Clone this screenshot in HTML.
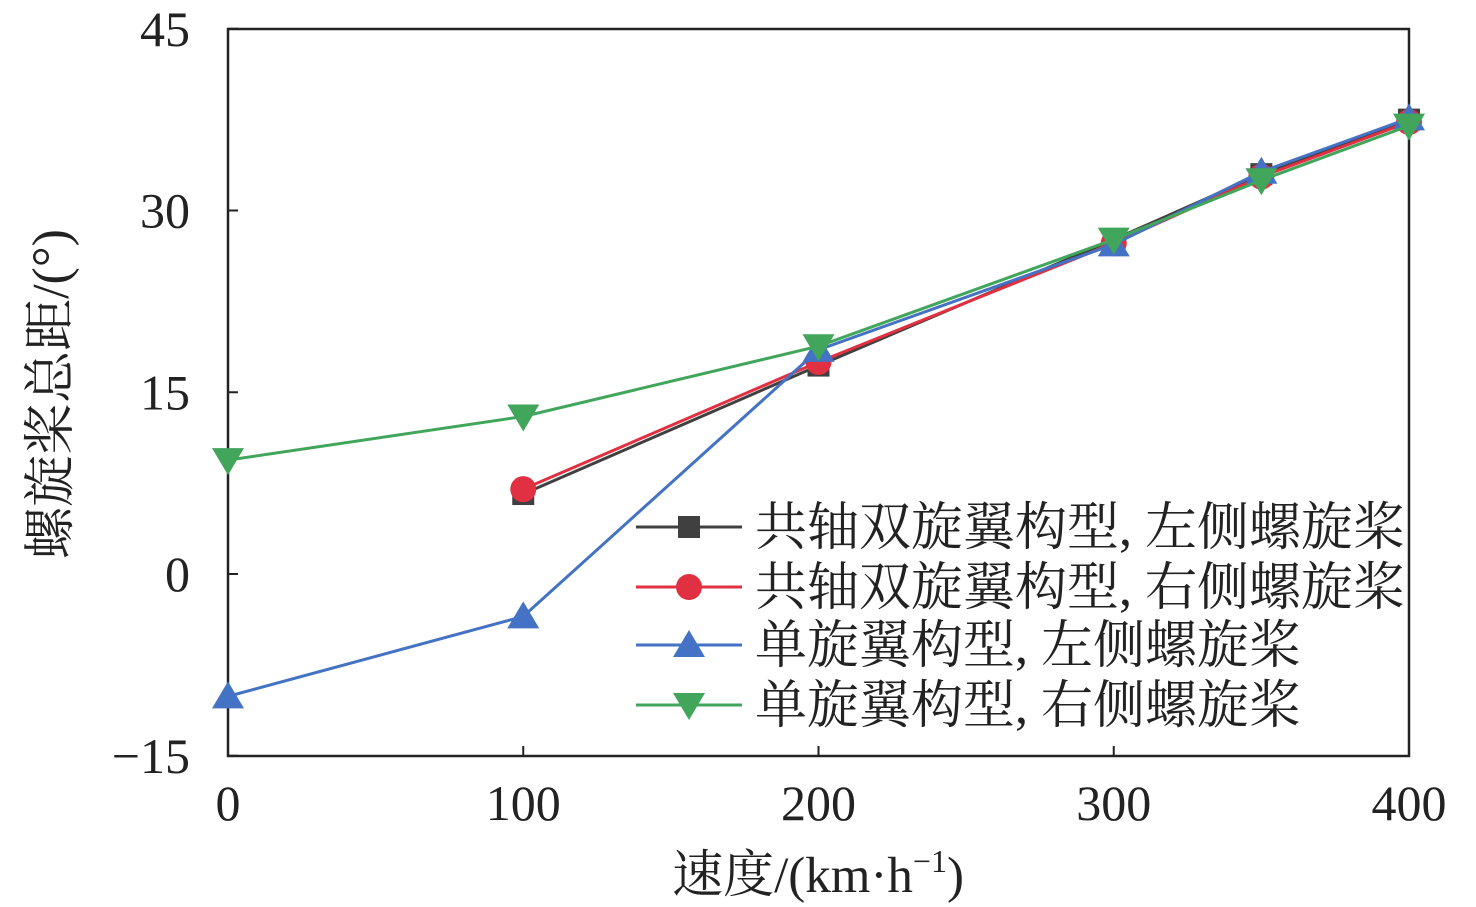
<!DOCTYPE html>
<html><head><meta charset="utf-8"><style>
html,body{margin:0;padding:0;background:#fff;}
svg{display:block;font-family:"Liberation Serif","Noto Serif CJK SC",serif;}
</style></head><body>
<svg id="chart" width="1476" height="907">
<rect x="228" y="29" width="1181" height="727" fill="none" stroke="#222" stroke-width="2.5"/>
<g id="axes"></g>
<g id="series"></g>
<g id="legend"></g>
<text x="68" y="394" font-size="52" text-anchor="middle" transform="rotate(-90 68 394)" fill="#222">螺旋桨总距/(°)</text>
<text x="818" y="892" font-size="51" text-anchor="middle" fill="#222">速度/(km·h<tspan font-size="32" dy="-20">−1</tspan><tspan dy="20">)</tspan></text>
</svg>
<script>
const xTicks=[0,100,200,300,400];
const yTicks=[-15,0,15,30,45];
const yTickLabels=["−15","0","15","30","45"];
const speedsFull=[0,100,200,300,350,400];
const speedsCoax=[100,200,300,350,400];
const coaxLeft=[6.6,17.2,27.6,33.0,37.5];
const coaxRight=[7.0,17.5,27.3,32.8,37.3];
const singleLeft=[-10.1,-3.5,18.5,27.2,33.2,37.6];
const singleRight=[9.4,13.0,18.8,27.6,32.5,37.0];
const legendLabels=["共轴双旋翼构型, 左侧螺旋桨","共轴双旋翼构型, 右侧螺旋桨","单旋翼构型, 左侧螺旋桨","单旋翼构型, 右侧螺旋桨"];
const NS="http://www.w3.org/2000/svg";
const X=v=>228+v/400*1181;
const Y=v=>574-v*727/60;
function mk(tag,attrs,parent){const e=document.createElementNS(NS,tag);for(const k in attrs)e.setAttribute(k,attrs[k]);parent.appendChild(e);return e;}
const axes=document.getElementById('axes');
xTicks.forEach((t,i)=>{
  const l=mk('line',{x1:X(t),x2:X(t),y1:756,y2:746,stroke:'#222','stroke-width':2},axes);
  
  
  const tx=mk('text',{x:X(t),y:820,'font-size':50,'text-anchor':'middle',fill:'#222'},axes);
  tx.textContent=t;
  
  
});
yTicks.forEach((t,i)=>{
  const l=mk('line',{x1:228,x2:238,y1:Y(t),y2:Y(t),stroke:'#222','stroke-width':2},axes);
  
  
  const tx=mk('text',{x:190,y:Y(t)+17,'font-size':50,'text-anchor':'end',fill:'#222'},axes);
  tx.textContent=yTickLabels[i];
  
  
});
function marker(type,cx,cy,color,parent){
  let e;
  if(type==='sq') e=mk('rect',{x:cx-11,y:cy-11,width:22,height:22,fill:color},parent);
  else if(type==='ci') e=mk('circle',{cx:cx,cy:cy,r:13,fill:color},parent);
  else if(type==='up') e=mk('polygon',{points:`${cx},${cy-15} ${cx-16},${cy+12} ${cx+16},${cy+12}`,fill:color},parent);
  else e=mk('polygon',{points:`${cx},${cy+15} ${cx-16},${cy-12} ${cx+16},${cy-12}`,fill:color},parent);
  return e;
}
const seriesDefs=[
 {xs:speedsCoax,ys:coaxLeft,c:'#404040',m:'sq',n:'coax-left'},
 {xs:speedsCoax,ys:coaxRight,c:'#e03041',m:'ci',n:'coax-right'},
 {xs:speedsFull,ys:singleLeft,c:'#4472c4',m:'up',n:'single-left'},
 {xs:speedsFull,ys:singleRight,c:'#41a65c',m:'dn',n:'single-right'}];
const sg=document.getElementById('series');
seriesDefs.forEach(s=>{
  const g=mk('g',{},sg);
  
  
  const pl=mk('polyline',{points:s.xs.map((x,i)=>X(x)+','+Y(s.ys[i])).join(' '),fill:'none',stroke:s.c,'stroke-width':3},g);
  
  
  s.xs.forEach((x,i)=>{
    const p=marker(s.m,X(x),Y(s.ys[i]),s.c,g);
    
    
  });
});
const lg=document.getElementById('legend');
const ly=[527,587,645,705];
seriesDefs.forEach((s,i)=>{
  const g=mk('g',{},lg);
  
  
  mk('line',{x1:636,x2:742,y1:ly[i],y2:ly[i],stroke:s.c,'stroke-width':3},g);
  marker(s.m,689,ly[i],s.c,g);
  const t=mk('text',{x:755,y:ly[i]+18,'font-size':52,fill:'#222'},g);
  t.textContent=legendLabels[i];
});
</script>
</body></html>
